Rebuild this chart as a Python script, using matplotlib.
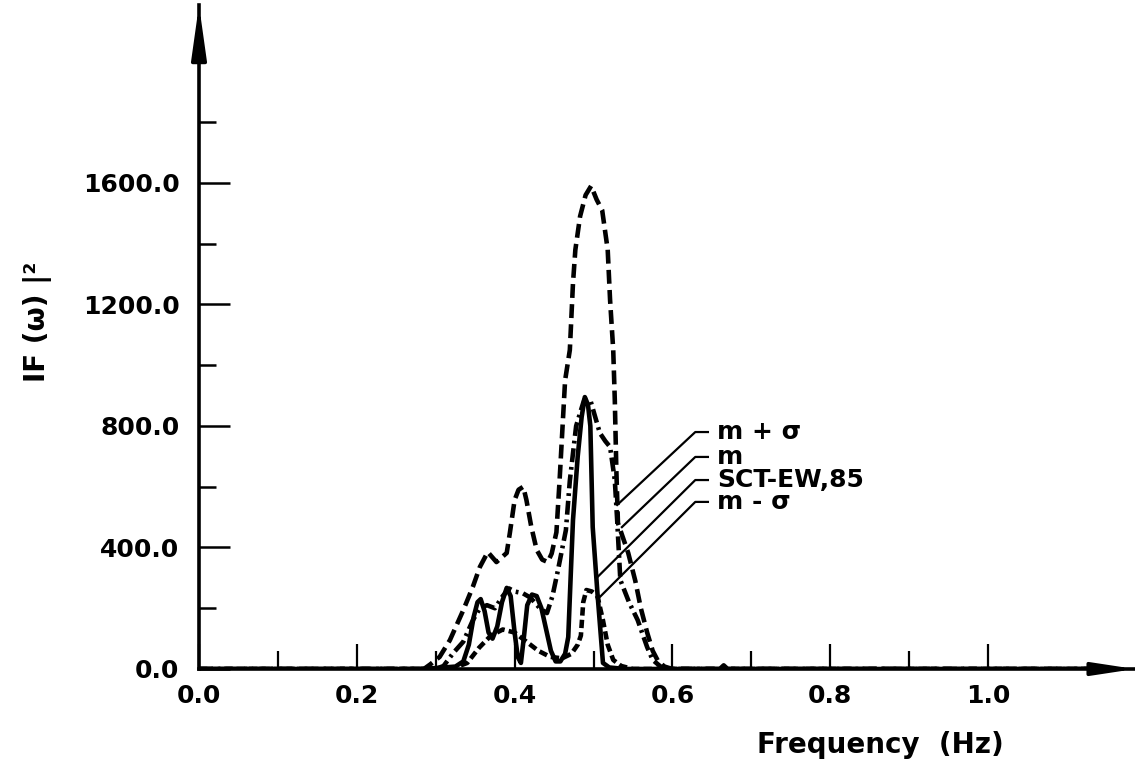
import matplotlib
matplotlib.use("Agg")
import matplotlib.pyplot as plt
from matplotlib.ticker import FixedLocator, FormatStrFormatter

plt.rcParams['font.family'] = ['DejaVu Sans']
plt.rcParams['lines.scale_dashes'] = False

# ---------------- data ----------------
f_mps = [0.0, 0.285, 0.293, 0.305, 0.318, 0.335, 0.347, 0.356, 0.366, 0.377, 0.39, 0.394, 0.40,
         0.405, 0.411, 0.415, 0.421, 0.428, 0.435, 0.442, 0.447, 0.453, 0.457, 0.464, 0.470,
         0.474, 0.477, 0.483, 0.490, 0.497, 0.504, 0.511, 0.518, 0.521, 0.525, 0.527, 0.529,
         0.531, 0.544, 0.553, 0.560, 0.568, 0.575, 0.582, 0.590, 0.60, 1.15]
v_mps = [0, 0, 15, 40, 95, 194, 270, 336, 385, 352, 382, 448, 556,
         590, 600, 556, 470, 392, 360, 352, 380, 450, 620, 950, 1050,
         1270, 1380, 1490, 1560, 1590, 1545, 1510, 1380, 1215, 1050, 885, 650,
         480, 382, 290, 200, 120, 60, 25, 8, 0, 0]

f_m = [0.0, 0.30, 0.31, 0.322, 0.335, 0.347, 0.356, 0.365, 0.375, 0.385, 0.393, 0.40, 0.41,
       0.42, 0.432, 0.441, 0.448, 0.455, 0.465, 0.470, 0.478, 0.488, 0.496, 0.508, 0.515,
       0.521, 0.527, 0.530, 0.534, 0.545, 0.556, 0.568, 0.575, 0.585, 0.60, 1.15]
v_m = [0, 0, 10, 52, 90, 160, 200, 210, 200, 240, 265, 255, 250,
       235, 200, 184, 240, 326, 457, 620, 800, 885, 885, 777, 750,
       731, 622, 490, 293, 220, 161, 72, 30, 8, 0, 0]

f_sct = [0.0, 0.28, 0.30, 0.325, 0.335, 0.342, 0.348, 0.353, 0.357, 0.362, 0.367, 0.372, 0.378,
         0.384, 0.390, 0.395, 0.400, 0.404, 0.408, 0.412, 0.416, 0.422, 0.428, 0.434, 0.440,
         0.446, 0.452, 0.458, 0.464, 0.468, 0.471, 0.474, 0.480, 0.485, 0.489, 0.493, 0.496,
         0.499, 0.505, 0.512, 0.52, 0.54, 0.66, 0.665, 0.67, 1.15]
v_sct = [0, 0, 3, 8, 25, 80, 170, 220, 230, 190, 120, 100, 140,
         220, 267, 240, 120, 40, 20, 110, 210, 245, 240, 200, 130,
         60, 25, 25, 50, 105, 300, 490, 700, 830, 895, 870, 800,
         467, 250, 20, 5, 0, 0, 12, 0, 0]

f_mms = [0.0, 0.32, 0.34, 0.355, 0.37, 0.385, 0.40, 0.415, 0.43, 0.445, 0.46, 0.472, 0.48,
         0.484, 0.487, 0.491, 0.498, 0.505, 0.512, 0.518, 0.525, 0.535, 0.55, 1.15]
v_mms = [0, 0, 20, 70, 110, 130, 120, 90, 60, 40, 35, 50, 80,
         110, 220, 260, 255, 240, 160, 80, 30, 10, 0, 0]

series_labels = ["m + σ", "m", "SCT-EW,85", "m - σ"]
label_v = [780, 698, 622, 550]
leader_end_f = [0.530, 0.536, 0.504, 0.508]
leader_end_v = [540, 467, 300, 237]

x_major = [0.0, 0.2, 0.4, 0.6, 0.8, 1.0]
x_minor = [0.1, 0.3, 0.5, 0.7, 0.9]
y_major = [0, 400, 800, 1200, 1600]
y_minor = [200, 600, 1000, 1400, 1800]

# ---------------- figure ----------------
W, H = 1135, 773
fig = plt.figure(figsize=(W / 100, H / 100), dpi=100)
x0, y0 = 199, 669
ax = fig.add_axes([x0 / W, (H - y0) / H, (W - x0) / W, (y0 - 5) / H])
ax.set_xlim(0, (W - x0) / 789.0)
ax.set_ylim(0, (y0 - 5) / 0.3038)

lw = 3.3
ax.plot(f_mps, v_mps, color='k', lw=lw, linestyle=(0, (10, 4.5)), dash_capstyle='butt',
        dash_joinstyle='round')
ax.plot(f_m, v_m, color='k', lw=lw, linestyle=(0, (10, 3.5, 2, 3.5)), dash_capstyle='butt',
        dash_joinstyle='round')
ax.plot(f_sct, v_sct, color='k', lw=lw, linestyle='-', solid_joinstyle='round')
ax.plot(f_mms, v_mms, color='k', lw=lw, linestyle=(0, (6, 3)), dash_capstyle='butt',
        dash_joinstyle='round')

# leader lines and labels
f_h0, f_h1, f_txt = 0.629, 0.645, 0.657
for lab, lv, ef, ev in zip(series_labels, label_v, leader_end_f, leader_end_v):
    ax.plot([ef, f_h0, f_h1], [ev, lv, lv], color='k', lw=1.6, clip_on=False)
    ax.text(f_txt, lv, lab, fontsize=18, fontweight='bold', va='center', ha='left')

# axes styling
for s in ['top', 'right']:
    ax.spines[s].set_visible(False)
for s in ['left', 'bottom']:
    ax.spines[s].set_linewidth(2.6)

ax.xaxis.set_major_locator(FixedLocator(x_major))
ax.xaxis.set_minor_locator(FixedLocator(x_minor))
ax.yaxis.set_major_locator(FixedLocator(y_major))
ax.yaxis.set_minor_locator(FixedLocator(y_minor))
ax.xaxis.set_major_formatter(FormatStrFormatter('%.1f'))
ax.yaxis.set_major_formatter(FormatStrFormatter('%.1f'))

ax.tick_params(axis='x', which='major', direction='in', length=18, width=1.6, pad=11,
               labelsize=18)
ax.tick_params(axis='x', which='minor', direction='in', length=13, width=1.6)
ax.tick_params(axis='y', which='major', direction='in', length=22, width=1.8, pad=14,
               labelsize=18)
ax.tick_params(axis='y', which='minor', direction='in', length=12, width=1.8)
for t in ax.get_xticklabels() + ax.get_yticklabels():
    t.set_fontweight('bold')

# arrow heads at the axis ends
ax.annotate('', xy=(1.0, 0.0), xytext=(0.96, 0.0), xycoords='axes fraction',
            arrowprops=dict(arrowstyle='-|>,head_length=2.5,head_width=0.38',
                            color='k', lw=2.6, shrinkA=0, shrinkB=0), annotation_clip=False)
ax.annotate('', xy=(0.0, 1.0), xytext=(0.0, 0.93), xycoords='axes fraction',
            arrowprops=dict(arrowstyle='-|>,head_length=3.2,head_width=0.45',
                            color='k', lw=2.6, shrinkA=0, shrinkB=0), annotation_clip=False)

# axis titles
fig.text(38 / W, 1 - 322 / H, 'IF (ω) |²', rotation=90, fontsize=20, fontweight='bold',
         ha='center', va='center')
fig.text(880 / W, 1 - 745 / H, 'Frequency  (Hz)', fontsize=20, fontweight='bold',
         ha='center', va='center')

fig.savefig('out.png', dpi=100, facecolor='white')
